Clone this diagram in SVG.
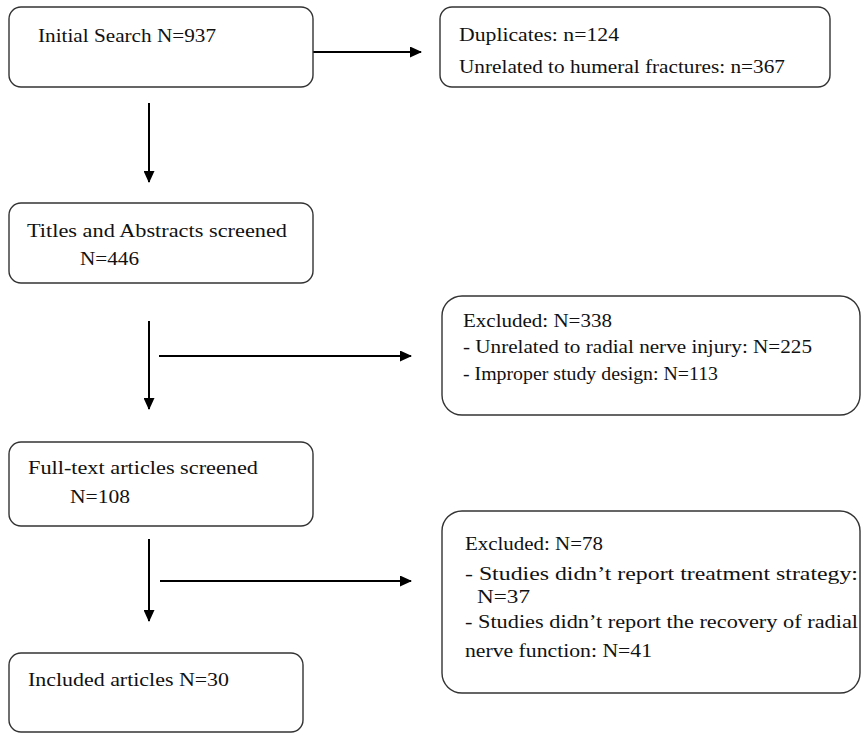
<svg xmlns="http://www.w3.org/2000/svg" width="862" height="733" viewBox="0 0 862 733">
<style>
.box{fill:#fff;stroke:#333;stroke-width:1.4}
.t{font-family:"Liberation Serif","Times New Roman",serif;font-size:19.5px;fill:#111}
.s{font-size:18px}
.c{stroke:#000;stroke-width:2;fill:none}
</style>
<defs>
<marker id="ah" markerWidth="12" markerHeight="11" refX="11" refY="5.5" orient="auto" markerUnits="userSpaceOnUse">
<path d="M0,0 L12,5.5 L0,11 Z" fill="#000"/>
</marker>
</defs>
<rect width="862" height="733" fill="#fff"/>
<g id="connectors">
<line class="c" x1="313" y1="52" x2="421" y2="52" marker-end="url(#ah)"/>
<line class="c" x1="149" y1="103" x2="149" y2="182" marker-end="url(#ah)"/>
<line class="c" x1="149" y1="321" x2="149" y2="409" marker-end="url(#ah)"/>
<line class="c" x1="159" y1="356" x2="411" y2="356" marker-end="url(#ah)"/>
<line class="c" x1="149" y1="539" x2="149" y2="621" marker-end="url(#ah)"/>
<line class="c" x1="160" y1="581" x2="411" y2="581" marker-end="url(#ah)"/>
</g>
<g id="initial">
<rect class="box" x="9" y="7" width="304" height="80" rx="12"/>
<text class="t" x="38" y="42" textLength="178" lengthAdjust="spacingAndGlyphs">Initial Search N=937</text>
</g>
<g id="duplicates">
<rect class="box" x="440" y="7" width="390" height="80" rx="12"/>
<text class="t" x="459" y="41" textLength="160" lengthAdjust="spacingAndGlyphs">Duplicates: n=124</text>
<text class="t" x="459" y="73" textLength="326" lengthAdjust="spacingAndGlyphs">Unrelated to humeral fractures: n=367</text>
</g>
<g id="titles">
<rect class="box" x="9" y="203" width="304" height="80" rx="12"/>
<text class="t" x="27" y="237" textLength="260" lengthAdjust="spacingAndGlyphs">Titles and Abstracts screened</text>
<text class="t" x="80" y="265" textLength="59" lengthAdjust="spacingAndGlyphs">N=446</text>
</g>
<g id="excluded1">
<rect class="box" x="442" y="296" width="418" height="119" rx="20"/>
<text class="t s" x="463" y="327" textLength="149" lengthAdjust="spacingAndGlyphs">Excluded: N=338</text>
<text class="t s" x="463" y="353" textLength="349" lengthAdjust="spacingAndGlyphs">- Unrelated to radial nerve injury: N=225</text>
<text class="t s" x="463" y="380" textLength="255" lengthAdjust="spacingAndGlyphs">- Improper study design: N=113</text>
</g>
<g id="fulltext">
<rect class="box" x="9" y="442" width="304" height="84" rx="12"/>
<text class="t" x="28" y="474" textLength="230" lengthAdjust="spacingAndGlyphs">Full-text articles screened</text>
<text class="t" x="70" y="503" textLength="60" lengthAdjust="spacingAndGlyphs">N=108</text>
</g>
<g id="excluded2">
<rect class="box" x="442" y="511" width="418" height="182" rx="20"/>
<text class="t s" x="465" y="550" textLength="138" lengthAdjust="spacingAndGlyphs">Excluded: N=78</text>
<text class="t s" x="465" y="580" textLength="393" lengthAdjust="spacingAndGlyphs">- Studies didn’t report treatment strategy:</text>
<text class="t s" x="477" y="603" textLength="53" lengthAdjust="spacingAndGlyphs">N=37</text>
<text class="t s" x="465" y="628" textLength="393" lengthAdjust="spacingAndGlyphs">- Studies didn’t report the recovery of radial</text>
<text class="t s" x="465" y="657" textLength="187" lengthAdjust="spacingAndGlyphs">nerve function: N=41</text>
</g>
<g id="included">
<rect class="box" x="9" y="653" width="294" height="79" rx="12"/>
<text class="t" x="28" y="686" textLength="201" lengthAdjust="spacingAndGlyphs">Included articles N=30</text>
</g>
</svg>
